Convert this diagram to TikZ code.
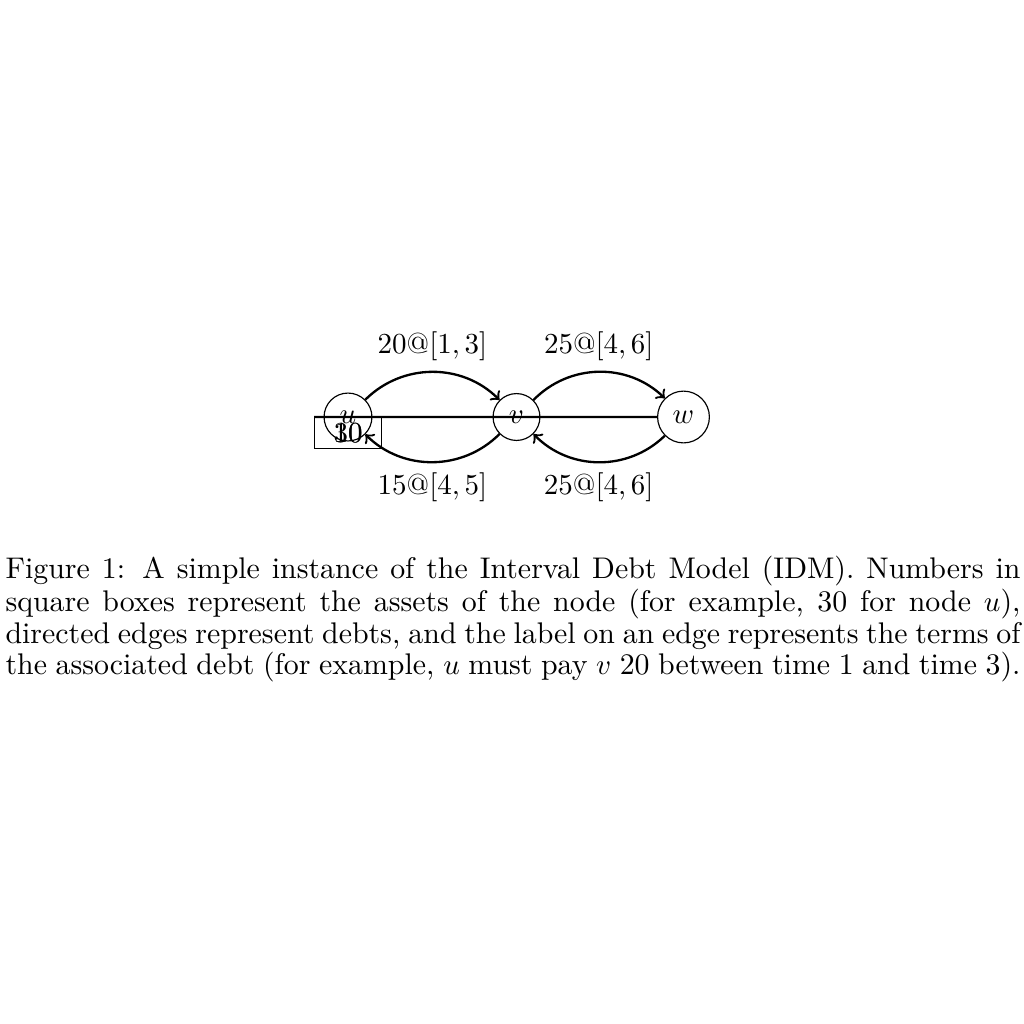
\documentclass[tikz,border=0pt]{standalone}
\usepackage{tikz}
\usetikzlibrary{arrows}

\begin{document}
\begin{tikzpicture}[scale=0.1212]
    \tikzset{agent/.style={draw,circle},
             debt/.style={->,thick},
             assets/.style={draw,rectangle,minimum width=23pt,minimum height=10.7pt,inner sep=0pt}}
    \useasboundingbox (0,0) rectangle (102.4,-102.4);
    % nodes
    \node [agent] (u) at (34.8,-41.7) {$u$};
    \node [agent] (v) at (51.65,-41.7) {$v$};
    \node [agent] (w) at (68.35,-41.7) {$w$};
    % assets box
    \node [assets,anchor=north] (box) at (u.center) {};
    \node [inner sep=0pt] (a30) at (box.center) {30};
    \node [inner sep=0pt] (a10) at (box.center) {10};
    \draw [thick] (box.north west) -- (w.west);
    % debts
    \draw [debt] (u) to [bend left=45] node [above] {$20@[1,3]$} (v);
    \draw [debt] (v) to [bend left=45] node [below] {$15@[4,5]$} (u);
    \draw [debt] (v) to [bend left=45] node [above] {$25@[4,6]$} (w);
    \draw [debt] (w) to [bend left=45] node [below] {$25@[4,6]$} (v);
    % caption
    \node [anchor=north west,text width=350pt,align=justify,inner sep=0pt,
           font=\fontsize{10.3}{9.31}\selectfont] (caption) at (0.5,-55.6)
        {Figure 1: A simple instance of the Interval Debt Model (IDM). Numbers in\linebreak square boxes represent the assets of the node (for example, 30 for node $u$),\linebreak directed edges represent debts, and the label on an edge represents the terms of\linebreak the associated debt (for example, $u$ must pay $v$ 20 between time 1 and time 3).};
\end{tikzpicture}
\end{document}
